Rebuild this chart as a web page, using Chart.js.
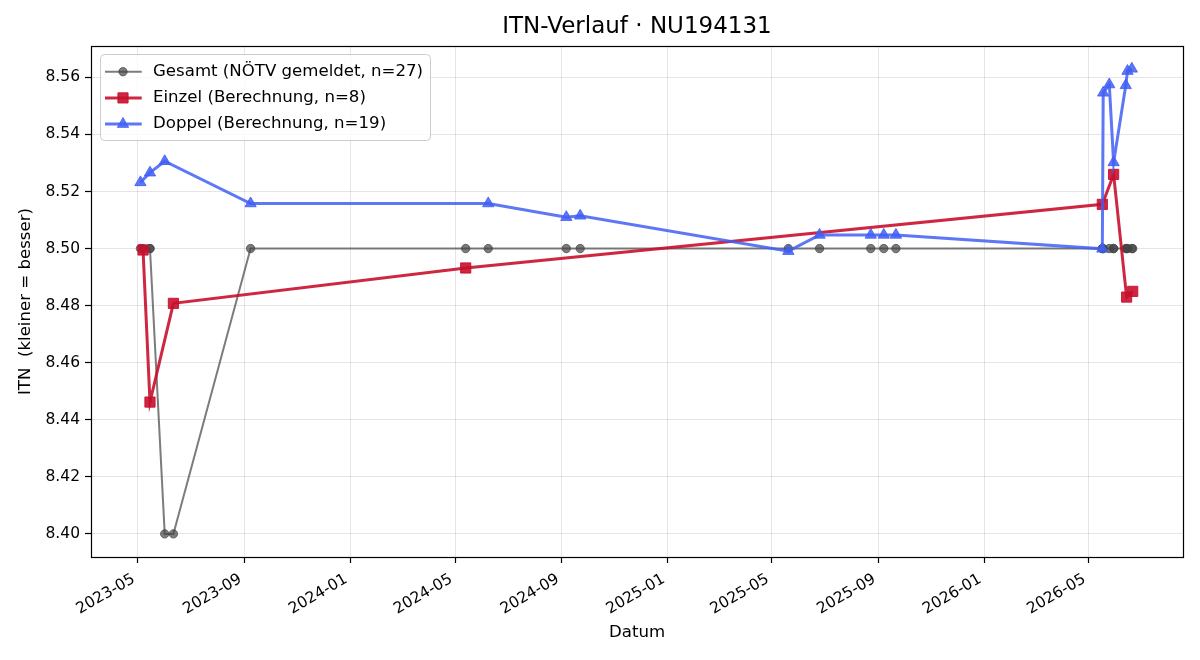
<!DOCTYPE html>
<html>
<head>
<meta charset="utf-8">
<title>ITN-Verlauf</title>
<script src="https://cdn.jsdelivr.net/npm/chart.js@4.4.1/dist/chart.umd.min.js"></script>
<style>
  html, body { margin: 0; padding: 0; background: #fff; }
  #wrap { width: 1200px; height: 660px; }
</style>
</head>
<body>
<div id="wrap"><canvas id="itnChart" width="1200" height="660"></canvas></div>
<script>
// Werte
const gesamtDates = [
  "2023-05-04", "2023-05-07", "2023-05-15", "2023-05-15", "2023-06-01", "2023-06-11",
  "2023-09-08", "2024-05-13", "2024-06-08", "2024-09-06", "2024-09-22", "2025-05-20",
  "2025-06-25", "2025-08-23", "2025-09-07", "2025-09-21", "2026-05-17", "2026-05-17",
  "2026-05-18", "2026-05-25", "2026-05-30", "2026-05-30", "2026-06-13", "2026-06-14",
  "2026-06-15", "2026-06-20", "2026-06-21",
];
const gesamtValues = [
  8.50, 8.50, 8.50, 8.50, 8.40, 8.40,
  8.50, 8.50, 8.50, 8.50, 8.50, 8.50,
  8.50, 8.50, 8.50, 8.50, 8.50, 8.50,
  8.50, 8.50, 8.50, 8.50, 8.50, 8.50,
  8.50, 8.50, 8.50,
];

const einzelDates = [
  "2023-05-07", "2023-05-15", "2023-06-11", "2024-05-13",
  "2026-05-17", "2026-05-30", "2026-06-14", "2026-06-21",
];
const einzelValues = [8.4995, 8.4462, 8.4808, 8.4932, 8.5155, 8.5260, 8.4830, 8.4850];

const doppelDates = [
  "2023-05-04", "2023-05-15", "2023-06-01", "2023-09-08", "2024-06-08", "2024-09-06",
  "2024-09-22", "2025-05-20", "2025-06-25", "2025-08-23", "2025-09-07", "2025-09-21",
  "2026-05-17", "2026-05-18", "2026-05-25", "2026-05-30", "2026-06-13", "2026-06-15",
  "2026-06-20",
];
const doppelValues = [
  8.5232, 8.5266, 8.5306, 8.5158, 8.5158, 8.5110,
  8.5115, 8.4991, 8.5048, 8.5048, 8.5048, 8.5048,
  8.4999, 8.5546, 8.5575, 8.5302, 8.5572, 8.5622,
  8.5630,
];

const xTickLabels = [
  "2023-05", "2023-09", "2024-01", "2024-05", "2024-09",
  "2025-01", "2025-05", "2025-09", "2026-01", "2026-05",
];
const yTicks = [8.40, 8.42, 8.44, 8.46, 8.48, 8.50, 8.52, 8.54, 8.56];

const chartTitle = "ITN-Verlauf · NU194131";

const xMin = Date.parse("2023-03-08");
const xMax = Date.parse("2026-08-18");
const yMin = 8.3919;
const yMax = 8.5710;

const toPoints = (dates, values) =>
  dates.map((d, i) => ({ x: Date.parse(d), y: values[i] }));

const FONT = "DejaVu Sans";
Chart.defaults.font.family = FONT;
Chart.defaults.color = "#000";

// Rahmen um die Zeichenfläche + Titel mittig über den Achsen
const framePlugin = {
  id: "frame",
  afterDraw(chart) {
    const { ctx, chartArea: a } = chart;
    ctx.save();
    ctx.strokeStyle = "#000";
    ctx.lineWidth = 1.2;
    ctx.strokeRect(Math.round(a.left) + 0.5, Math.round(a.top) + 0.5,
      Math.round(a.right - a.left), Math.round(a.bottom - a.top));

    ctx.fillStyle = "#000";
    ctx.font = `23px "${FONT}"`;
    ctx.textAlign = "center";
    ctx.textBaseline = "middle";
    ctx.fillText(chartTitle, (a.left + a.right) / 2, 27);
    ctx.restore();
  },
};

// Legende im matplotlib-Stil (oben links in der Zeichenfläche)
const boxLegendPlugin = {
  id: "boxLegend",
  afterDraw(chart) {
    const { ctx, chartArea: a } = chart;
    const left = a.left + 9;
    const top = a.top + 8;
    const w = 330;
    const h = 86;
    ctx.save();
    ctx.beginPath();
    ctx.roundRect(left + 0.5, top + 0.5, w, h, 4);
    ctx.fillStyle = "rgba(255,255,255,0.8)";
    ctx.fill();
    ctx.strokeStyle = "#cccccc";
    ctx.lineWidth = 1;
    ctx.stroke();

    chart.data.datasets.forEach((ds, row) => {
      const y = top + 17.7 + row * 26.2;
      ctx.strokeStyle = ds.borderColor;
      ctx.lineWidth = ds.borderWidth;
      ctx.beginPath();
      ctx.moveTo(left + 5, y);
      ctx.lineTo(left + 41.7, y);
      ctx.stroke();
      ctx.fillStyle = ds.pointBackgroundColor;
      ctx.strokeStyle = ds.pointBorderColor;
      ctx.lineWidth = ds.pointBorderWidth;
      Chart.helpers.drawPoint(ctx, {
        pointStyle: ds.pointStyle,
        radius: ds.pointRadius,
        rotation: 0,
        borderWidth: ds.pointBorderWidth,
      }, left + 23, y);
      ctx.fillStyle = "#000";
      ctx.font = `16.6px "${FONT}"`;
      ctx.textBaseline = "middle";
      ctx.textAlign = "left";
      ctx.fillText(ds.label, left + 53, y);
    });
    ctx.restore();
  },
};

const grayColor = "rgba(68,68,68,0.7)";
const redColor = "rgba(200,16,46,0.9)";
const blueColor = "rgba(65,95,243,0.85)";

new Chart(document.getElementById("itnChart"), {
  type: "line",
  data: {
    datasets: [
      {
        label: "Gesamt (NÖTV gemeldet, n=27)",
        data: toPoints(gesamtDates, gesamtValues),
        borderColor: grayColor,
        backgroundColor: grayColor,
        pointBackgroundColor: grayColor,
        pointBorderColor: grayColor,
        borderWidth: 2,
        pointStyle: "circle",
        pointRadius: 4.2,
        pointBorderWidth: 1,
        tension: 0,
        order: 3,
      },
      {
        label: "Einzel (Berechnung, n=8)",
        data: toPoints(einzelDates, einzelValues),
        borderColor: redColor,
        backgroundColor: redColor,
        pointBackgroundColor: redColor,
        pointBorderColor: redColor,
        borderWidth: 3,
        pointStyle: "rect",
        pointRadius: 7.2,
        pointBorderWidth: 1,
        tension: 0,
        order: 2,
      },
      {
        label: "Doppel (Berechnung, n=19)",
        data: toPoints(doppelDates, doppelValues),
        borderColor: blueColor,
        backgroundColor: blueColor,
        pointBackgroundColor: blueColor,
        pointBorderColor: blueColor,
        borderWidth: 3,
        pointStyle: "triangle",
        pointRadius: 6.5,
        pointBorderWidth: 1,
        tension: 0,
        order: 1,
      },
    ],
  },
  options: {
    responsive: false,
    animation: false,
    layout: { padding: { left: 0, right: 17, top: 46, bottom: 0 } },
    plugins: {
      legend: { display: false },
      tooltip: { enabled: false },
      title: { display: false },
    },
    scales: {
      x: {
        type: "linear",
        min: xMin,
        max: xMax,
        afterBuildTicks: (scale) => {
          scale.ticks = xTickLabels.map((l) => ({ value: Date.parse(l + "-01") }));
        },
        afterFit: (scale) => {
          scale.height = 103;
        },
        ticks: {
          autoSkip: false,
          minRotation: 30,
          maxRotation: 30,
          padding: 7,
          labelOffset: -4,
          color: "#000",
          font: { size: 15.5 },
          callback: (value, index) => xTickLabels[index],
        },
        grid: {
          color: "rgba(0,0,0,0.1)",
          lineWidth: 1,
          drawTicks: true,
          tickLength: 6,
          tickColor: "#000",
          tickWidth: 1.2,
        },
        border: { display: false },
        title: {
          display: true,
          text: "Datum",
          color: "#000",
          font: { size: 16.6 },
          padding: { top: 0, bottom: 17 },
        },
      },
      y: {
        type: "linear",
        min: yMin,
        max: yMax,
        afterBuildTicks: (scale) => {
          scale.ticks = yTicks.map((v) => ({ value: v }));
        },
        afterFit: (scale) => {
          scale.width = 91;
        },
        ticks: {
          padding: 5,
          color: "#000",
          font: { size: 15.5 },
          callback: (value) => Number(value).toFixed(2),
        },
        grid: {
          color: "rgba(0,0,0,0.1)",
          lineWidth: 1,
          drawTicks: true,
          tickLength: 6,
          tickColor: "#000",
          tickWidth: 1.2,
        },
        border: { display: false },
        title: {
          display: true,
          text: "ITN  (kleiner = besser)",
          color: "#000",
          font: { size: 16.6 },
          padding: { top: 15.5, bottom: 0 },
        },
      },
    },
  },
  plugins: [framePlugin, boxLegendPlugin],
});
</script>
</body>
</html>
